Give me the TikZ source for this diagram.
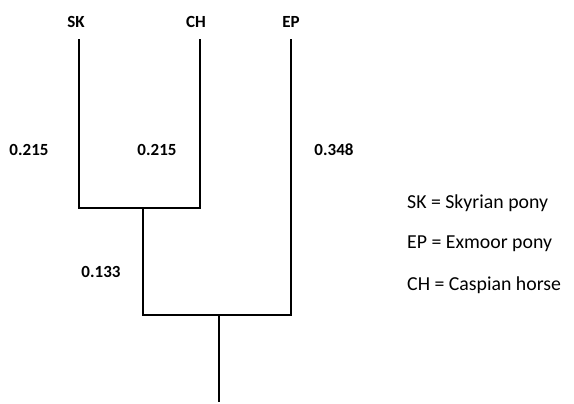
\documentclass[tikz,border=0pt]{standalone}
\usepackage{fontspec}
\setmainfont{Carlito}
\begin{document}
\begin{tikzpicture}[x=1pt,y=-1pt,
  br/.style={line width=1.3pt,line cap=rect},
  tip/.style={font=\bfseries\fontsize{17}{19}\selectfont},
  val/.style={font=\bfseries\fontsize{17}{19}\selectfont},
  leg/.style={font=\fontsize{19.8}{22}\selectfont,anchor=west,inner sep=0pt}]
\useasboundingbox (0,0) rectangle (574,404);
% tips
\coordinate (sk) at (79,40);
\coordinate (ch) at (200,40);
\coordinate (ep) at (291,40);
\coordinate (skb) at (79,208);
\coordinate (chb) at (200,208);
\coordinate (n1) at (143,208);
\coordinate (n1b) at (143,315);
\coordinate (epb) at (291,315);
\coordinate (n2) at (219,315);
\coordinate (root) at (219,401);
\node[tip] (skl) at (76,22) {SK};
\node[tip] (chl) at (196,22) {CH};
\node[tip] (epl) at (291,22) {EP};
\draw[br] (sk) -- (skb) -- (chb) -- (ch);
\draw[br] (n1) -- (n1b) -- (epb) -- (ep);
\draw[br] (n2) -- (root);
\node[val] (v1) at (29,150) {0.215};
\node[val] (v2) at (157,150) {0.215};
\node[val] (v3) at (334,150) {0.348};
\node[val] (v4) at (101,272) {0.133};
\node[leg] (l1) at (407,203) {SK = Skyrian pony};
\node[leg] (l2) at (407,244) {EP = Exmoor pony};
\node[leg] (l3) at (407,285) {CH = Caspian horse};
\end{tikzpicture}
\end{document}
